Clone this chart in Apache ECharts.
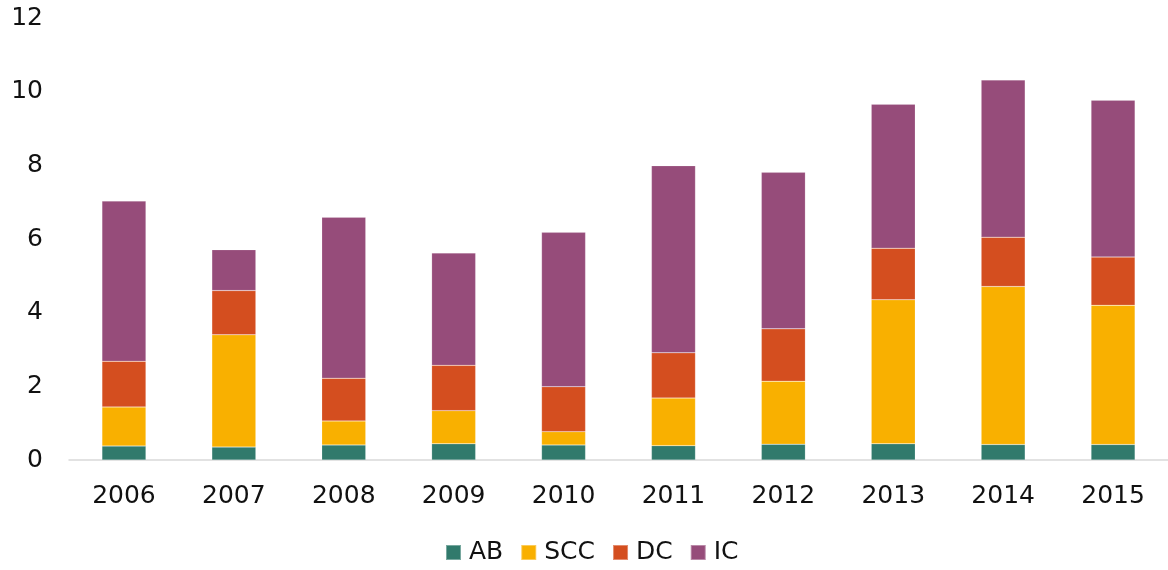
<!DOCTYPE html>
<html>
<head>
<meta charset="utf-8">
<script src="https://cdn.jsdelivr.net/npm/echarts@6/dist/echarts.min.js"></script>
<style>
	html,body{margin:0;padding:0;background:#fff;}
	#chart{width:1168px;height:570px;}
</style>
</head>
<body>
<div id="chart"></div>
<script>
	// data
	var years = ["2006","2007","2008","2009","2010","2011","2012","2013","2014","2015"];
	var ab  = [0.38, 0.35, 0.41, 0.44, 0.41, 0.39, 0.43, 0.44, 0.42, 0.42];
	var scc = [1.06, 3.05, 0.65, 0.90, 0.36, 1.29, 1.71, 3.91, 4.29, 3.78];
	var dc  = [1.24, 1.20, 1.16, 1.23, 1.22, 1.23, 1.42, 1.40, 1.34, 1.31];
	var ic  = [4.35, 1.11, 4.37, 3.05, 4.19, 5.08, 4.25, 3.91, 4.27, 4.26];
	var yTicks = [0, 2, 4, 6, 8, 10, 12];

	var names  = ["AB","SCC","DC","IC"];
	var colors = ["#317a6c","#f9b000","#d44e1f","#964c7a"];
	var values = [ab, scc, dc, ic];

	var font = "DejaVu Sans, Verdana, sans-serif";

	var seriesList = [];
	names.forEach(function(n, i){
		seriesList.push({
			name: n,
			type: "bar",
			stack: "all",
			barWidth: 44,
			itemStyle: {
				color: colors[i],
				borderColor: "rgba(255,255,255,0.35)",
				borderWidth: 0.5
			},
			data: values[i]
		});
	});

	var myChart = echarts.init(document.getElementById("chart"));
	myChart.setOption({
		animation: false,
		grid: { left: 69, right: -4, top: 18, bottom: 110 },
		legend: {
			left: 440,
			top: 535,
			itemWidth: 15,
			itemHeight: 15,
			itemGap: 17,
			icon: "rect",
			data: names,
			textStyle: { fontFamily: font, fontSize: 25, color: "#111", padding: [0, 0, 0, 3] }
		},
		xAxis: {
			type: "category",
			data: years,
			axisLine: { lineStyle: { color: "#d9d9d9", width: 1.5 } },
			axisTick: { show: false },
			axisLabel: { fontFamily: font, fontSize: 25, color: "#111", margin: 24 }
		},
		yAxis: {
			type: "value",
			min: yTicks[0],
			max: yTicks[yTicks.length - 1],
			interval: 2,
			splitLine: { show: false },
			axisLine: { show: false },
			axisTick: { show: false },
			axisLabel: { fontFamily: font, fontSize: 25, color: "#111", margin: 26 }
		},
		series: seriesList
	});
</script>
</body>
</html>
